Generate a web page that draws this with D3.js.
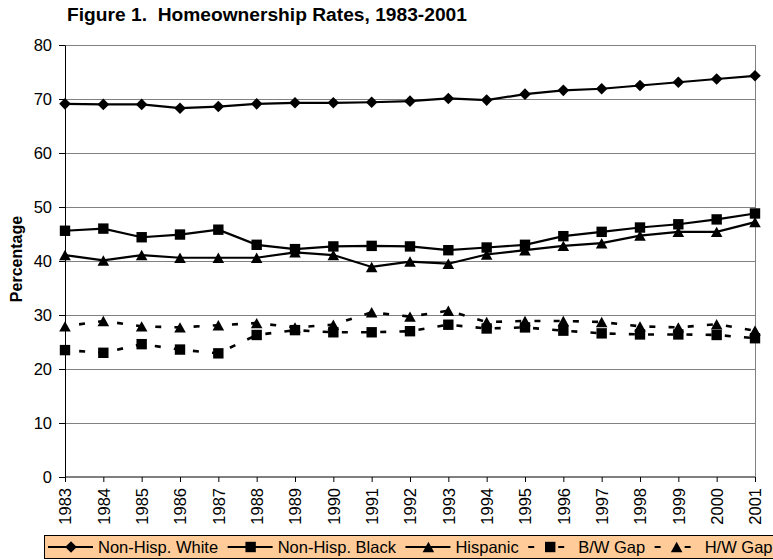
<!DOCTYPE html>
<html>
<head>
<meta charset="utf-8">
<script src="https://cdn.jsdelivr.net/npm/d3@7"></script>
<style>
body{margin:0;background:#fff;}
svg text{font-family:"Liberation Sans",Arial,sans-serif;fill:#000;}
</style>
</head>
<body>
<svg id="chart" width="773" height="560"></svg>
<script>
// values
var years = [1983,1984,1985,1986,1987,1988,1989,1990,1991,1992,1993,1994,1995,1996,1997,1998,1999,2000,2001];
var white    = [69.1,69.0,69.0,68.3,68.6,69.1,69.3,69.3,69.4,69.6,70.1,69.8,70.9,71.6,71.9,72.5,73.1,73.7,74.3];
var black    = [45.6,46.0,44.4,44.9,45.8,43.0,42.2,42.7,42.8,42.7,42.0,42.5,43.0,44.6,45.4,46.2,46.8,47.7,48.8];
var hispanic = [41.1,40.1,41.1,40.6,40.6,40.6,41.6,41.1,38.9,39.9,39.5,41.2,42.0,42.8,43.3,44.7,45.4,45.4,47.2];
var bwGap    = [23.5,23.0,24.6,23.6,22.9,26.3,27.2,26.8,26.8,27.0,28.2,27.5,27.7,27.1,26.6,26.4,26.4,26.3,25.7];
var hwGap    = [27.9,28.9,27.9,27.7,28.1,28.5,27.7,28.2,30.5,29.7,30.8,28.7,28.9,28.9,28.7,27.9,27.7,28.3,27.1];
var yTicks = [0,10,20,30,40,50,60,70,80];

var series = [
  {name:"Non-Hisp. White", values:white,    marker:"diamond",  dashed:false},
  {name:"Non-Hisp. Black", values:black,    marker:"square",   dashed:false},
  {name:"Hispanic",        values:hispanic, marker:"triangle", dashed:false},
  {name:"B/W Gap",         values:bwGap,    marker:"square",   dashed:true},
  {name:"H/W Gap",         values:hwGap,    marker:"triangle", dashed:true}
];

var svg = d3.select("#chart");
var margin = {left:65, right:18, top:45, bottom:83};
var W = 773, H = 560;
var plotW = W - margin.left - margin.right;
var plotH = H - margin.top - margin.bottom;
var fs = "16.5px";

var x = d3.scalePoint().domain(years).range([0, plotW]);
var y = d3.scaleLinear().domain([0,80]).range([plotH, 0]);

// excel-like markers
var markers = {
  diamond:{draw:function(c){ var r=5.8; c.moveTo(0,-r); c.lineTo(r,0); c.lineTo(0,r); c.lineTo(-r,0); c.closePath(); }},
  square:{draw:function(c){ var r=5.2; c.rect(-r,-r,2*r,2*r); }},
  triangle:{draw:function(c){ var w=5.8, h=5.2; c.moveTo(0,-h); c.lineTo(w,h); c.lineTo(-w,h); c.closePath(); }}
};

// title
svg.append("text")
  .attr("x",67).attr("y",20.5)
  .style("font-size","19.2px").style("font-weight","bold")
  .attr("xml:space","preserve")
  .text("Figure 1.  Homeownership Rates, 1983-2001");

var g = svg.append("g").attr("transform","translate("+margin.left+","+margin.top+")");

// gridlines
g.append("g").selectAll("line")
  .data(yTicks.filter(function(d){return d>0;}))
  .enter().append("line")
  .attr("x1",0).attr("x2",plotW)
  .attr("y1",d=>y(d)).attr("y2",d=>y(d))
  .attr("stroke","#808080").attr("stroke-width",1)
  .attr("shape-rendering","crispEdges");

// right border of plot area
g.append("line")
  .attr("x1",plotW).attr("x2",plotW).attr("y1",0).attr("y2",plotH)
  .attr("stroke","#808080").attr("shape-rendering","crispEdges");

// y axis
var yAxis = g.append("g")
  .call(d3.axisLeft(y).tickValues(yTicks).tickSize(6).tickPadding(7).tickSizeOuter(0));
yAxis.selectAll("text").style("font-size",fs).style("font-family","Liberation Sans, Arial, sans-serif");
yAxis.selectAll("line,path").attr("stroke","#000");

// x axis
var xAxis = g.append("g").attr("transform","translate(0,"+plotH+")")
  .call(d3.axisBottom(x).tickSize(5).tickSizeOuter(0));
xAxis.select("path").attr("d","M0,0H"+plotW).attr("stroke","#000");
xAxis.selectAll("line").attr("stroke","#000");
xAxis.selectAll("text")
  .style("font-size",fs).style("font-family","Liberation Sans, Arial, sans-serif")
  .attr("text-anchor","end")
  .attr("transform","rotate(-90)")
  .attr("x",-11).attr("y",0).attr("dy","0.36em");

// y label
svg.append("text")
  .attr("transform","translate(22,"+(margin.top+plotH/2-2)+") rotate(-90)")
  .attr("text-anchor","middle")
  .style("font-size","16px").style("font-weight","bold")
  .text("Percentage");

// lines and markers
var line = d3.line().x((d,i)=>x(years[i])).y(d=>y(d));

series.forEach(function(s){
  g.append("path")
    .datum(s.values)
    .attr("d",line)
    .attr("fill","none")
    .attr("stroke","#000")
    .attr("stroke-width",s.dashed?2.6:2.2)
    .attr("stroke-dasharray",s.dashed?"6,13.2":null)
    .attr("stroke-dashoffset",s.dashed?5:null);
  g.append("g").selectAll("path")
    .data(s.values)
    .enter().append("path")
    .attr("d",d3.symbol().type(markers[s.marker]))
    .attr("transform",(d,i)=>"translate("+x(years[i])+","+y(d)+")")
    .attr("fill","#000");
});

// legend
var leg = svg.append("g").attr("transform","translate(44,535)");
leg.append("rect")
  .attr("x",0.5).attr("y",0.5).attr("width",760).attr("height",23)
  .attr("fill","#FFCC99").attr("stroke","#000").attr("stroke-width",1);

var cx = 4;
series.forEach(function(s){
  var it = leg.append("g").attr("transform","translate("+cx+",0)");
  it.append("line")
    .attr("x1",0).attr("x2",s.dashed?36:45).attr("y1",12).attr("y2",12)
    .attr("stroke","#000").attr("stroke-width",2.2)
    .attr("stroke-dasharray",s.dashed?"6,24":null);
  it.append("path")
    .attr("d",d3.symbol().type(markers[s.marker]))
    .attr("transform","translate("+(s.dashed?22:23)+",12)")
    .attr("fill","#000");
  var t = it.append("text")
    .attr("x",50).attr("y",18)
    .style("font-size",fs)
    .text(s.name);
  cx += 50 + t.node().getComputedTextLength() + 9.5;
});
</script>
</body>
</html>
